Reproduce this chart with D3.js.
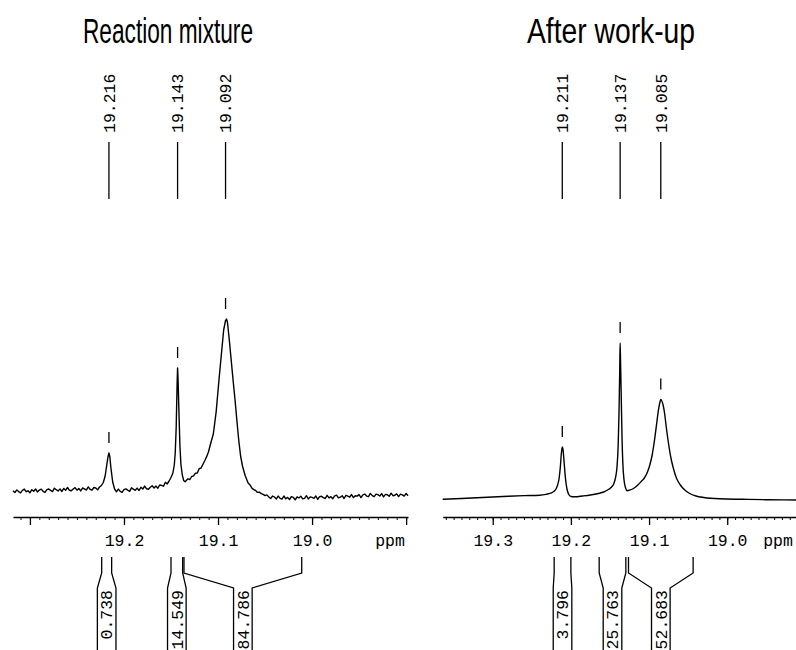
<!DOCTYPE html>
<html>
<head>
<meta charset="utf-8">
<script src="https://cdn.jsdelivr.net/npm/d3@7"></script>
<style>
  body { margin: 0; background: #fff; }
  svg { display: block; }
  .mono { font-family: "Liberation Mono", "Courier New", monospace; font-size: 16.5px; fill: #000; }
  .title { font-family: "Liberation Sans", Arial, sans-serif; font-size: 35px; fill: #000; }
</style>
</head>
<body>
<div id="chart"></div>
<script>
// ---- data ----
const panelTitles = ['Reaction mixture', 'After work-up'];

// [ppm, intensity]
const mixtureSpectrum = [
  [19.318, 9.3], [19.316, 7.4], [19.314, 10.1], [19.312, 8.4], [19.310, 7.2], [19.308, 9.7],
  [19.306, 10.9], [19.304, 8.3], [19.302, 9.2], [19.300, 7.2], [19.298, 10.3], [19.296, 8.8],
  [19.294, 11.0], [19.292, 8.1], [19.290, 9.9], [19.288, 10.9], [19.286, 8.7], [19.284, 7.6],
  [19.282, 10.3], [19.280, 11.0], [19.278, 9.6], [19.276, 8.4], [19.274, 11.8], [19.272, 10.3],
  [19.270, 9.0], [19.268, 11.1], [19.266, 8.5], [19.264, 11.6], [19.262, 9.8], [19.260, 12.5],
  [19.258, 9.7], [19.256, 9.2], [19.254, 11.0], [19.252, 12.3], [19.250, 9.8], [19.248, 11.5],
  [19.246, 9.1], [19.244, 12.0], [19.242, 11.1], [19.240, 9.9], [19.238, 13.1], [19.236, 10.7],
  [19.234, 9.8], [19.232, 12.5], [19.230, 12.0], [19.228, 10.2], [19.226, 13.0], [19.224, 14.5],
  [19.222, 17.5], [19.220, 24], [19.218, 37], [19.217, 43], [19.216, 47], [19.215, 43],
  [19.214, 33], [19.212, 18], [19.210, 11], [19.208, 8.2], [19.206, 10.9], [19.204, 8.7],
  [19.202, 7.7], [19.200, 10.4], [19.198, 11.1], [19.196, 9.8], [19.194, 8.7], [19.192, 12.2],
  [19.190, 10.9], [19.188, 9.7], [19.186, 11.9], [19.184, 9.5], [19.182, 12.7], [19.180, 11.0],
  [19.178, 13.9], [19.176, 11.2], [19.174, 10.8], [19.172, 12.8], [19.170, 14.2], [19.168, 11.9],
  [19.166, 13.9], [19.164, 11.8], [19.162, 15.0], [19.160, 14.6], [19.158, 13.8], [19.156, 17.7],
  [19.154, 16.1], [19.152, 19.0], [19.150, 22.5], [19.148, 27], [19.1465, 35], [19.1455, 47],
  [19.1445, 72], [19.1435, 116], [19.143, 132], [19.1425, 121], [19.1415, 86], [19.1405, 54],
  [19.1395, 36], [19.138, 25], [19.1365, 19.5], [19.135, 18.3], [19.132, 21.2], [19.130, 20.4],
  [19.128, 23.5], [19.126, 24.1], [19.124, 26.8], [19.122, 27.0], [19.120, 31.4], [19.118, 32.0],
  [19.116, 35.8], [19.114, 39.5], [19.112, 43.6], [19.110, 48.5], [19.108, 56], [19.105, 66],
  [19.102, 88], [19.099, 120], [19.096, 150], [19.094, 170], [19.092, 179.5], [19.091, 181],
  [19.090, 178], [19.088, 160], [19.086, 140], [19.084, 120], [19.082, 101], [19.080, 80],
  [19.078, 60], [19.076, 44], [19.074, 34], [19.071, 24], [19.068, 17], [19.066, 15.1],
  [19.064, 11.9], [19.062, 10.4], [19.060, 9.5], [19.058, 7.6], [19.056, 7.9], [19.054, 6.3],
  [19.052, 5.6], [19.050, 4.4], [19.048, 5.1], [19.046, 3.0], [19.044, 1.5], [19.042, 4.0],
  [19.040, 3.0], [19.038, 1.1], [19.036, 3.9], [19.034, 1.7], [19.032, 0.9], [19.030, 4.0],
  [19.028, 1.2], [19.026, 2.6], [19.024, 0.5], [19.022, 3.4], [19.020, 2.6], [19.018, 0.2],
  [19.016, 3.0], [19.014, 2.1], [19.012, 3.8], [19.010, 1.1], [19.008, 1.7], [19.006, 4.3],
  [19.004, 1.0], [19.002, 3.1], [19.000, 2.6], [18.998, 1.6], [18.996, 4.0], [18.994, 0.7],
  [18.992, 3.4], [18.990, 3.8], [18.988, 2.4], [18.986, 1.5], [18.984, 4.7], [18.982, 2.1],
  [18.980, 3.3], [18.978, 1.3], [18.976, 4.1], [18.974, 4.8], [18.972, 2.1], [18.970, 2.8],
  [18.968, 4.3], [18.966, 1.5], [18.964, 4.7], [18.962, 3.8], [18.960, 2.8], [18.958, 5.5],
  [18.956, 2.4], [18.954, 4.3], [18.952, 3.9], [18.950, 5.4], [18.948, 2.4], [18.946, 5.1],
  [18.944, 5.9], [18.942, 3.9], [18.940, 3.3], [18.938, 6.6], [18.936, 4.4], [18.934, 3.3],
  [18.932, 5.9], [18.930, 5.4], [18.928, 4.0], [18.926, 6.4], [18.924, 3.1], [18.922, 5.6],
  [18.920, 5.3], [18.918, 3.7], [18.916, 6.8], [18.914, 4.3], [18.912, 4.8], [18.910, 6.1],
  [18.908, 3.4], [18.906, 5.9], [18.904, 5.2], [18.902, 3.9], [18.900, 6.6], [18.898, 4.2],
];

const workupSpectrum = [
  [19.364, 0.8], [19.340, 1.5], [19.320, 2.2], [19.300, 3.0], [19.280, 3.8], [19.260, 4.4],
  [19.240, 4.8], [19.232, 5.6], [19.226, 6.8], [19.222, 8.5], [19.219, 11], [19.217, 15],
  [19.215, 22], [19.2135, 33], [19.212, 48], [19.211, 53], [19.210, 50], [19.2085, 36],
  [19.207, 22], [19.205, 11], [19.203, 6], [19.200, 3.5], [19.195, 3.2], [19.185, 4],
  [19.175, 5], [19.165, 6.5], [19.158, 8], [19.152, 10.5], [19.148, 13], [19.145, 16.5],
  [19.143, 22], [19.141, 33], [19.1395, 55], [19.1385, 85], [19.1375, 130], [19.137, 157],
  [19.1365, 140], [19.1355, 100], [19.1345, 60], [19.1335, 36], [19.132, 20], [19.130, 12],
  [19.128, 9.3], [19.125, 9.8], [19.120, 11.5], [19.115, 14.5], [19.110, 18.5], [19.106, 22],
  [19.102, 28], [19.099, 35], [19.096, 45], [19.093, 60], [19.090, 78], [19.088, 90],
  [19.086, 98], [19.085, 100.5], [19.084, 99.5], [19.082, 95], [19.080, 86], [19.078, 73],
  [19.075, 56], [19.072, 42], [19.069, 32], [19.065, 22], [19.060, 15], [19.055, 10.5],
  [19.048, 6.5], [19.040, 4], [19.030, 2.5], [19.010, 1.2], [18.980, 0.7], [18.950, 0.3],
  [18.912, 0],
];

const mixturePeaks = [19.216, 19.143, 19.092];
const workupPeaks = [19.211, 19.137, 19.085];

const mixtureIntegralRanges = [[19.2237, 19.2131], [19.150, 19.1376], [19.1362, 19.011]];
const mixtureIntegrals = ['0.738', '14.549', '84.786'];
const workupIntegralRanges = [[19.2214, 19.200], [19.1638, 19.1297], [19.1263, 19.0436]];
const workupIntegrals = ['3.796', '25.763', '52.683'];

const mixtureMajorTicks = [19.3, 19.2, 19.1, 19.0, 18.9];
const mixtureTickLabels = ['19.2', '19.1', '19.0'];
const workupMajorTicks = [19.3, 19.2, 19.1, 19.0];
const workupTickLabels = ['19.3', '19.2', '19.1', '19.0'];

class SpectrumPanel {
  constructor(_config, data) {
    this.config = {
      svg: _config.svg,
      xDomain: _config.xDomain,
      xRange: _config.xRange,
      titleX: _config.titleX,
      titleWidth: _config.titleWidth,
      ppmX: _config.ppmX,
      smooth: _config.smooth,
      axisY: 517,
    };
    this.data = data;
    this.initVis();
  }

  initVis() {
    const vis = this;
    vis.g = vis.config.svg.append('g');

    vis.xScale = d3.scaleLinear().domain(vis.config.xDomain).range(vis.config.xRange);
    vis.yScale = d3.scaleLinear().domain([0, 200]).range([500, 300]);

    vis.g.append('text')
      .attr('class', 'title')
      .attr('x', vis.config.titleX - vis.config.titleWidth / 2)
      .attr('y', 43)
      .attr('textLength', vis.config.titleWidth)
      .attr('lengthAdjust', 'spacingAndGlyphs')
      .text(vis.data.title);

    vis.minorAxisG = vis.g.append('g').attr('transform', `translate(0,${vis.config.axisY})`);
    vis.majorAxisG = vis.g.append('g').attr('transform', `translate(0,${vis.config.axisY})`);

    vis.renderVis();
  }

  renderVis() {
    const vis = this;
    const x = vis.xScale;
    const y = vis.yScale;
    const [d0, d1] = vis.config.xDomain;

    // axis: 0.01 ppm minor ticks, 0.1 ppm major ticks
    const minorTicks = d3.range(Math.ceil(d1 * 100), Math.floor(d0 * 100) + 1).map((v) => v / 100);
    vis.minorAxisG.call(d3.axisBottom(x).tickValues(minorTicks).tickSize(3).tickSizeOuter(0).tickFormat(''));
    vis.minorAxisG.selectAll('line').attr('stroke', '#000').attr('stroke-width', 1);
    vis.minorAxisG.select('.domain').attr('stroke', '#000').attr('stroke-width', 1.5);

    vis.majorAxisG.call(d3.axisBottom(x)
      .tickValues(vis.data.majorTicks)
      .tickSize(8)
      .tickSizeOuter(0)
      .tickFormat((d) => (vis.data.tickLabels.includes(d.toFixed(1)) ? d.toFixed(1) : '')));
    vis.majorAxisG.select('.domain').remove();
    vis.majorAxisG.selectAll('line').attr('stroke', '#000').attr('stroke-width', 1.3);
    vis.majorAxisG.selectAll('text')
      .attr('class', 'mono')
      .attr('y', 17);
    vis.majorAxisG.attr('font-family', null).attr('font-size', null);

    vis.g.append('text')
      .attr('class', 'mono')
      .attr('x', vis.config.ppmX)
      .attr('y', vis.config.axisY + 17)
      .attr('dy', '0.71em')
      .attr('text-anchor', 'middle')
      .text('ppm');

    // spectrum trace
    const line = d3.line()
      .x((d) => x(d[0]))
      .y((d) => y(d[1]))
      .curve(vis.config.smooth ? d3.curveMonotoneX : d3.curveLinear);

    vis.g.append('path')
      .datum(vis.data.spectrum)
      .attr('fill', 'none')
      .attr('stroke', '#000')
      .attr('stroke-width', 1.4)
      .attr('stroke-linejoin', 'round')
      .attr('d', line);

    // peak picks: small marks above each maximum, labels at the top
    const peakHeight = (ppm) => d3.max(vis.data.spectrum.filter((d) => Math.abs(d[0] - ppm) <= 0.0015), (d) => d[1]);

    vis.g.selectAll('.peak-mark')
      .data(vis.data.peaks)
      .join('line')
      .attr('class', 'peak-mark')
      .attr('x1', (d) => x(d))
      .attr('x2', (d) => x(d))
      .attr('y1', (d) => y(peakHeight(d)) - 21)
      .attr('y2', (d) => y(peakHeight(d)) - 10)
      .attr('stroke', '#000')
      .attr('stroke-width', 1.3);

    vis.g.selectAll('.peak-line')
      .data(vis.data.peaks)
      .join('line')
      .attr('class', 'peak-line')
      .attr('x1', (d) => x(d))
      .attr('x2', (d) => x(d))
      .attr('y1', 142)
      .attr('y2', 199)
      .attr('stroke', '#000')
      .attr('stroke-width', 1.3);

    vis.g.selectAll('.peak-label')
      .data(vis.data.peaks)
      .join('text')
      .attr('class', 'peak-label mono')
      .attr('transform', (d) => `translate(${x(d)},133) rotate(-90)`)
      .attr('dy', '0.35em')
      .text((d) => d.toFixed(3));

    // integral brackets under the axis
    const boxHalf = 9.3;
    vis.g.selectAll('.integral-path')
      .data(vis.data.integralRanges)
      .join('path')
      .attr('class', 'integral-path')
      .attr('fill', 'none')
      .attr('stroke', '#000')
      .attr('stroke-width', 1.3)
      .attr('d', (r) => {
        const xa = x(r[0]);
        const xb = x(r[1]);
        const c = (xa + xb) / 2;
        return `M${xa},557V573L${c - boxHalf},588V652`
          + `M${xb},557V573L${c + boxHalf},588V652`;
      });

    vis.g.selectAll('.integral-label')
      .data(vis.data.integralRanges)
      .join('text')
      .attr('class', 'integral-label mono')
      .attr('text-anchor', 'end')
      .attr('transform', (r) => `translate(${(x(r[0]) + x(r[1])) / 2},590) rotate(-90)`)
      .attr('dy', '0.35em')
      .text((r, i) => vis.data.integrals[i]);
  }
}

const svg = d3.select('#chart')
  .append('svg')
  .attr('width', 796)
  .attr('height', 650);

new SpectrumPanel({
  svg,
  xDomain: [19.318, 18.898],
  xRange: [13, 408],
  titleX: 168,
  titleWidth: 170,
  ppmX: 390,
  smooth: false,
}, {
  title: panelTitles[0],
  spectrum: mixtureSpectrum,
  peaks: mixturePeaks,
  integralRanges: mixtureIntegralRanges,
  integrals: mixtureIntegrals,
  majorTicks: mixtureMajorTicks,
  tickLabels: mixtureTickLabels,
});

new SpectrumPanel({
  svg,
  xDomain: [19.364, 18.912],
  xRange: [442.7, 796],
  titleX: 611,
  titleWidth: 168,
  ppmX: 778,
  smooth: true,
}, {
  title: panelTitles[1],
  spectrum: workupSpectrum,
  peaks: workupPeaks,
  integralRanges: workupIntegralRanges,
  integrals: workupIntegrals,
  majorTicks: workupMajorTicks,
  tickLabels: workupTickLabels,
});
</script>
</body>
</html>
